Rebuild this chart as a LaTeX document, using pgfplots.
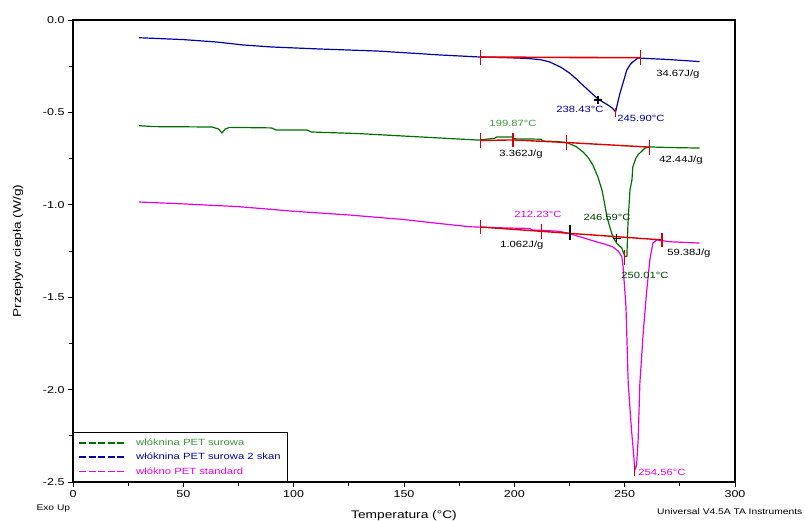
\documentclass[border=0pt]{standalone}
\usepackage{fontspec}
\setmainfont{Liberation Sans}
\newfontfamily\lbl[FakeStretch=1.25]{Liberation Sans}
\usepackage{pgfplots}
\pgfplotsset{compat=1.18}

\definecolor{cgreen}{RGB}{0,110,0}
\definecolor{lgreen}{RGB}{60,150,60}
\definecolor{cblue}{RGB}{0,0,170}
\definecolor{cmag}{RGB}{230,0,230}
\definecolor{cred}{RGB}{220,0,0}

\newcommand{\tickfont}{\lbl\fontsize{10bp}{12bp}\selectfont}
\newcommand{\labfont}{\lbl\fontsize{11bp}{13bp}\selectfont}
\newcommand{\annfont}{\lbl\fontsize{9bp}{11bp}\selectfont}
\newcommand{\smfont}{\lbl\fontsize{8.2bp}{10bp}\selectfont}
\newcommand{\lgdfont}{\lbl\fontsize{9bp}{10bp}\selectfont}

\begin{document}
\begin{tikzpicture}
\path[use as bounding box] (-73bp,-39bp) rectangle (732bp,482bp);
\begin{axis}[
  at={(0,0)}, anchor=south west,
  scale only axis, width=662bp, height=462bp,
  xmin=0, xmax=300, ymin=-2.5, ymax=0,
  xtick={0,50,...,300}, ytick={-2.5,-2,...,0},
  minor x tick num=1, minor y tick num=1,
  xtick pos=bottom, ytick pos=left,
  tick align=outside,
  major tick length=5bp, minor tick length=4bp,
  axis line style={line width=1.1bp},
  every tick/.style={black, line width=0.8bp},
  /pgf/number format/assume math mode=true,
  yticklabel style={font=\tickfont, /pgf/number format/fixed, /pgf/number format/fixed zerofill, /pgf/number format/precision=1},
  xticklabel style={font=\tickfont},
  xlabel={Temperatura (°C)},
  ylabel={Przepływ ciepła (W/g)},
  xlabel style={font=\labfont, at={(axis description cs:0.5,-0.0736)}, anchor=center},
  ylabel style={font=\labfont, at={(axis description cs:-0.083,0.5)}, anchor=center},
  legend style={at={(0,0)}, anchor=south west, line width=0.9bp, fill=white,
    font=\lgdfont, inner xsep=5bp, inner ysep=4bp, row sep=2.2bp,
    cells={anchor=west}},
  legend cell align=left,
  legend image code/.code={\draw[#1, line width=1.5bp]
    (0bp,0bp) -- (7bp,0bp) (9.5bp,0bp) -- (16.5bp,0bp) (19bp,0bp) -- (26bp,0bp)
    (28.5bp,0bp) -- (35.5bp,0bp) (38bp,0bp) -- (45bp,0bp);
    \path[draw=none, fill=none] (0bp,0bp) -- (55bp,0bp);},
]
% wlóknina PET surowa
\addplot[cgreen, line width=1.2bp, forget plot] coordinates {
 (30,-0.572)(37,-0.577)(63,-0.579)(66,-0.590)(67.5,-0.611)(69,-0.590)(71,-0.581)
 (90,-0.584)(92,-0.595)(106,-0.595)(108,-0.606)(130,-0.615)(150,-0.628)(170,-0.641)
 (184,-0.650)(191,-0.640)(192,-0.633)(199,-0.633)(200,-0.643)(212,-0.645)(213,-0.655)
 (220,-0.658)(224.3,-0.666)(228,-0.685)(231.1,-0.714)(233.5,-0.745)(235.6,-0.785)
 (237.9,-0.850)(239.7,-0.920)(240.6,-0.974)(242,-1.066)(243.5,-1.130)(244.7,-1.174)
 (246.5,-1.210)(248.7,-1.234)(250.1,-1.280)(251,-1.280)(251.5,-1.100)(252.4,-0.920)
 (253.3,-0.866)(253.7,-0.795)(255,-0.750)(256,-0.730)(259.2,-0.693)(261.4,-0.687)
 (270,-0.690)(284,-0.693)};
% wlóknina PET surowa 2 skan
\addplot[cblue, line width=1.2bp, forget plot] coordinates {
 (30,-0.096)(50,-0.106)(65,-0.119)(77,-0.135)(90,-0.146)(112,-0.157)(138,-0.168)
 (153,-0.179)(166,-0.189)(184,-0.200)(195,-0.203)(206,-0.208)(212,-0.215)(216,-0.227)
 (221,-0.255)(225,-0.287)(228,-0.318)(231,-0.352)(234,-0.385)(237.4,-0.422)(240,-0.443)
 (242.4,-0.460)(244.5,-0.478)(245.9,-0.497)(246.9,-0.444)(247.8,-0.400)(248.7,-0.363)
 (250,-0.310)(251,-0.270)(252.4,-0.243)(253.7,-0.227)(256,-0.206)(260,-0.208)
 (270,-0.214)(284,-0.225)};
% wlókno PET standard
\addplot[cmag, line width=1.2bp, forget plot] coordinates {
 (30,-0.985)(50,-0.995)(75,-1.010)(100,-1.035)(125,-1.055)(150,-1.080)(165,-1.100)
 (180,-1.119)(195,-1.125)(207,-1.128)(208,-1.136)(220,-1.143)(224,-1.153)(229.7,-1.173)
 (233,-1.185)(237.4,-1.201)(241,-1.213)(244.7,-1.228)(247,-1.250)(248.7,-1.280)
 (249.3,-1.337)(250.6,-1.553)(251.6,-1.964)(253.1,-2.219)(253.9,-2.327)(254.6,-2.435)
 (255.4,-2.410)(256.1,-2.273)(256.9,-1.964)(258.4,-1.694)(259.9,-1.477)(261.4,-1.299)
 (262.2,-1.245)(262.8,-1.207)(264.6,-1.190)(270.5,-1.200)(284,-1.207)};

% baselines and integration limits
\addplot[cred, line width=1.6bp, forget plot] coordinates {(184.5,-0.201)(257,-0.204)};
\addplot[cred, line width=1.2bp, forget plot] coordinates {(184.5,-0.164)(184.5,-0.244)};
\addplot[cred, line width=1.2bp, forget plot] coordinates {(257,-0.164)(257,-0.244)};
\addplot[cred, line width=1.2bp, forget plot] coordinates {(245.8,-0.476)(245.8,-0.525)};
\addplot[black, line width=1.1bp, mark=+, mark size=4bp, only marks, forget plot] coordinates {(237.9,-0.433)};

\addplot[cred, line width=1.4bp, forget plot] coordinates {(184.5,-0.652)(199.4,-0.649)(223.8,-0.663)(261.4,-0.688)};
\addplot[cred, line width=1.2bp, forget plot] coordinates {(184.5,-0.612)(184.5,-0.692)};
\addplot[cred, line width=1.2bp, forget plot] coordinates {(199.4,-0.609)(199.4,-0.689)};
\addplot[cred, line width=1.2bp, forget plot] coordinates {(223.8,-0.623)(223.8,-0.703)};
\addplot[cred, line width=1.2bp, forget plot] coordinates {(261.4,-0.648)(261.4,-0.728)};

\addplot[cred, line width=1.4bp, forget plot] coordinates {(184.5,-1.120)(266.9,-1.190)};
\addplot[cred, line width=1.2bp, forget plot] coordinates {(184.5,-1.080)(184.5,-1.160)};
\addplot[cred, line width=1.2bp, forget plot] coordinates {(212.2,-1.103)(212.2,-1.183)};
\addplot[black, line width=2bp, forget plot] coordinates {(225.3,-1.112)(225.3,-1.192)};
\addplot[cred, line width=1.2bp, forget plot] coordinates {(266.9,-1.150)(266.9,-1.230)};
\addplot[black, line width=1.1bp, mark=+, mark size=4bp, only marks, forget plot] coordinates {(246.5,-1.180)};
\addplot[cred, line width=1.2bp, forget plot] coordinates {(250,-1.245)(250,-1.325)};
\addplot[cred, line width=1.2bp, forget plot] coordinates {(254.6,-2.41)(254.6,-2.47)};

% legend
\addlegendimage{draw=cgreen}
\addlegendentry{\textcolor{lgreen}{włóknina PET surowa}}
\addlegendimage{draw=cblue}
\addlegendentry{\textcolor{cblue}{włóknina PET surowa 2 skan}}
\addlegendimage{draw=cmag}
\addlegendentry{\textcolor{cmag}{włókno PET standard}}

% annotations
\node[font=\annfont, black] at (axis cs:274.1,-0.292) {34.67J/g};
\node[font=\annfont, cblue] at (axis cs:229.7,-0.482) {238.43°C};
\node[font=\annfont, cblue] at (axis cs:257.4,-0.530) {245.90°C};
\node[font=\annfont, lgreen] at (axis cs:199.4,-0.557) {199.87°C};
\node[font=\annfont, black] at (axis cs:203.0,-0.725) {3.362J/g};
\node[font=\annfont, black] at (axis cs:275.5,-0.758) {42.44J/g};
\node[font=\annfont, cmag] at (axis cs:210.7,-1.050) {212.23°C};
\node[font=\annfont, cgreen!60!black] at (axis cs:242.0,-1.066) {246.59°C};
\node[font=\annfont, black] at (axis cs:203.4,-1.218) {1.062J/g};
\node[font=\annfont, black] at (axis cs:279.1,-1.261) {59.38J/g};
\node[font=\annfont, cgreen!60!black] at (axis cs:259.2,-1.380) {250.01°C};
\node[font=\annfont, cmag] at (axis cs:266.9,-2.446) {254.56°C};
\end{axis}
\node[font=\smfont, anchor=west] at (-40bp,-27bp) {Exo Up};
\node[font=\smfont, anchor=west, inner sep=0pt] at (584bp,-30bp) {Universal V4.5A TA Instruments};
\end{tikzpicture}
\end{document}
